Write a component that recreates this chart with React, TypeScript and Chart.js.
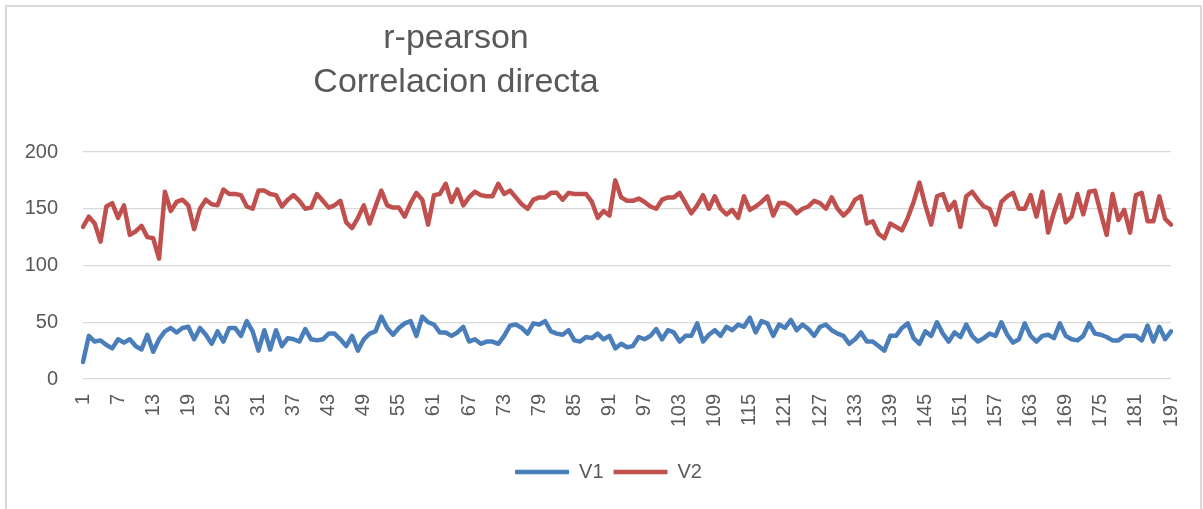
import React, { useEffect, useRef } from "react";
import { Chart, registerables } from "chart.js";

Chart.register(...registerables);

const TITLE_LINES = ["r-pearson", "Correlacion directa"];
const SERIES_NAMES = ["V1", "V2"];

const V1 = [
  15, 38, 33, 34, 30, 27, 35, 32, 35, 29, 26, 39, 24, 35, 42, 45, 41, 45, 46, 35,
  45, 39, 31, 42, 33, 45, 45, 38, 51, 42, 25, 43, 26, 43, 29, 36, 35, 33, 44, 35,
  34, 35, 40, 40, 35, 29, 38, 25, 35, 40, 42, 55, 45, 39, 45, 49, 51, 38, 55, 50,
  48, 41, 41, 38, 41, 46, 33, 35, 31, 33, 33, 31, 38, 47, 48, 45, 40, 49, 48, 51,
  42, 40, 39, 43, 34, 33, 37, 36, 40, 35, 38, 27, 31, 28, 29, 37, 35, 38, 44, 35,
  43, 41, 33, 38, 38, 49, 33, 39, 43, 38, 46, 43, 48, 46, 54, 41, 51, 49, 38, 48,
  45, 52, 43, 48, 44, 38, 46, 48, 43, 40, 38, 31, 35, 41, 33, 33, 29, 25, 38, 38,
  45, 49, 36, 31, 42, 38, 50, 40, 33, 41, 37, 48, 38, 33, 36, 40, 38, 50, 39, 32,
  35, 49, 38, 33, 38, 39, 36, 49, 38, 35, 34, 38, 49, 40, 39, 37, 34, 34, 38, 38,
  38, 34, 47, 33, 46, 35, 42,
];

const V2 = [
  134, 143, 137, 121, 152, 155, 142, 153, 127, 130, 135, 125, 124, 106, 165, 148, 156, 158, 153, 132,
  150, 158, 154, 153, 167, 163, 163, 162, 152, 150, 166, 166, 163, 162, 152, 158, 162, 157, 150, 151,
  163, 157, 151, 153, 157, 138, 133, 142, 153, 137, 152, 166, 153, 151, 151, 143, 155, 164, 158, 136,
  162, 163, 172, 156, 167, 153, 160, 165, 162, 161, 161, 172, 163, 166, 160, 154, 150, 158, 160, 160,
  164, 164, 158, 164, 163, 163, 163, 156, 142, 148, 144, 175, 160, 157, 157, 159, 156, 152, 150, 158,
  160, 160, 164, 155, 146, 153, 162, 150, 161, 150, 145, 149, 142, 161, 149, 152, 156, 161, 144, 155,
  155, 152, 146, 150, 152, 157, 155, 150, 160, 150, 144, 149, 158, 161, 137, 139, 128, 124, 137, 134,
  131, 142, 156, 173, 153, 136, 161, 163, 149, 156, 134, 161, 165, 158, 152, 150, 136, 156, 161, 164,
  150, 150, 162, 143, 165, 129, 147, 162, 138, 143, 163, 145, 165, 166, 146, 127, 163, 140, 149, 129,
  162, 164, 139, 139, 161, 141, 136,
];

// Category labels: 1..181, then the row numbers that follow in the sheet (…197)
const CATEGORIES = V1.map((_, i) => String(i < 181 ? i + 1 : i + 11));
const LABEL_STEP = 6;

const Y_MIN = 0;
const Y_MAX = 200;
const Y_STEP = 50;

const FONT = "'Liberation Sans', Arial, sans-serif";
const TEXT_COLOR = "#595959";
const GRID_COLOR = "#d9d9d9";
const BLUE = "#4a7ebb";
const RED = "#c0504d";

const titlePlugin = {
  id: "customTitle",
  afterLayout(chart: any) {
    if (chart.legend) {
      chart.legend.left += 16;
      chart.legend.right += 16;
    }
  },
  afterDraw(chart: any) {
    const ctx = chart.ctx;
    ctx.save();
    ctx.fillStyle = TEXT_COLOR;
    ctx.font = `34px ${FONT}`;
    ctx.textAlign = "center";
    ctx.textBaseline = "alphabetic";
    ctx.fillText(TITLE_LINES[0], 456, 48);
    ctx.fillText(TITLE_LINES[1], 456, 92);
    ctx.restore();
  },
};

export default function App() {
  const canvasRef = useRef<HTMLCanvasElement | null>(null);

  useEffect(() => {
    const canvas = canvasRef.current;
    if (!canvas) return;
    const chart = new Chart(canvas, {
      type: "line",
      data: {
        labels: CATEGORIES,
        datasets: [
          {
            label: SERIES_NAMES[0],
            data: V1,
            borderColor: BLUE,
            backgroundColor: BLUE,
            borderWidth: 4.5,
            pointRadius: 0,
            tension: 0,
            borderJoinStyle: "round",
            borderCapStyle: "round",
          },
          {
            label: SERIES_NAMES[1],
            data: V2,
            borderColor: RED,
            backgroundColor: RED,
            borderWidth: 4.5,
            pointRadius: 0,
            tension: 0,
            borderJoinStyle: "round",
            borderCapStyle: "round",
          },
        ],
      },
      options: {
        responsive: false,
        animation: false,
        devicePixelRatio: 1,
        layout: { padding: { top: 152, left: 14, right: 32, bottom: 17 } },
        plugins: {
          title: { display: false },
          tooltip: { enabled: false },
          legend: {
            position: "bottom",
            labels: {
              usePointStyle: true,
              pointStyle: "line",
              pointStyleWidth: 54,
              padding: 10,
              color: TEXT_COLOR,
              font: { size: 20, family: FONT },
            },
          },
        },
        scales: {
          x: {
            grid: { display: false, drawTicks: false },
            border: { display: false },
            afterFit: (scale: any) => {
              scale.height = 73;
              scale.paddingLeft = 0;
              scale.paddingRight = 0;
            },
            ticks: {
              autoSkip: false,
              minRotation: 90,
              maxRotation: 90,
              padding: 15,
              color: TEXT_COLOR,
              font: { size: 20, family: FONT },
              callback: function (this: any, _v: any, index: number) {
                return index % LABEL_STEP === 0 ? CATEGORIES[index] : "";
              },
            },
          },
          y: {
            min: Y_MIN,
            max: Y_MAX,
            grid: { color: GRID_COLOR, lineWidth: 1.3, drawTicks: false },
            border: { display: false },
            afterFit: (scale: any) => {
              scale.width = 69;
              scale.paddingTop = 0;
              scale.paddingBottom = 0;
            },
            ticks: {
              stepSize: Y_STEP,
              padding: 25,
              color: TEXT_COLOR,
              font: { size: 20, family: FONT },
            },
          },
        },
      },
      plugins: [titlePlugin],
    });
    return () => chart.destroy();
  }, []);

  return (
    <div>
      <div
        style={{
          position: "fixed",
          left: 5,
          top: 5,
          width: 1193,
          height: 520,
          borderLeft: "2px solid #d9d9d9",
          borderTop: "2px solid #d9d9d9",
          borderRight: "2px solid #d9d9d9",
          background: "#ffffff",
        }}
      />
      <canvas
        ref={canvasRef}
        width={1203}
        height={509}
        style={{ position: "fixed", left: 0, top: 0, width: 1203, height: 509 }}
      />
    </div>
  );
}
